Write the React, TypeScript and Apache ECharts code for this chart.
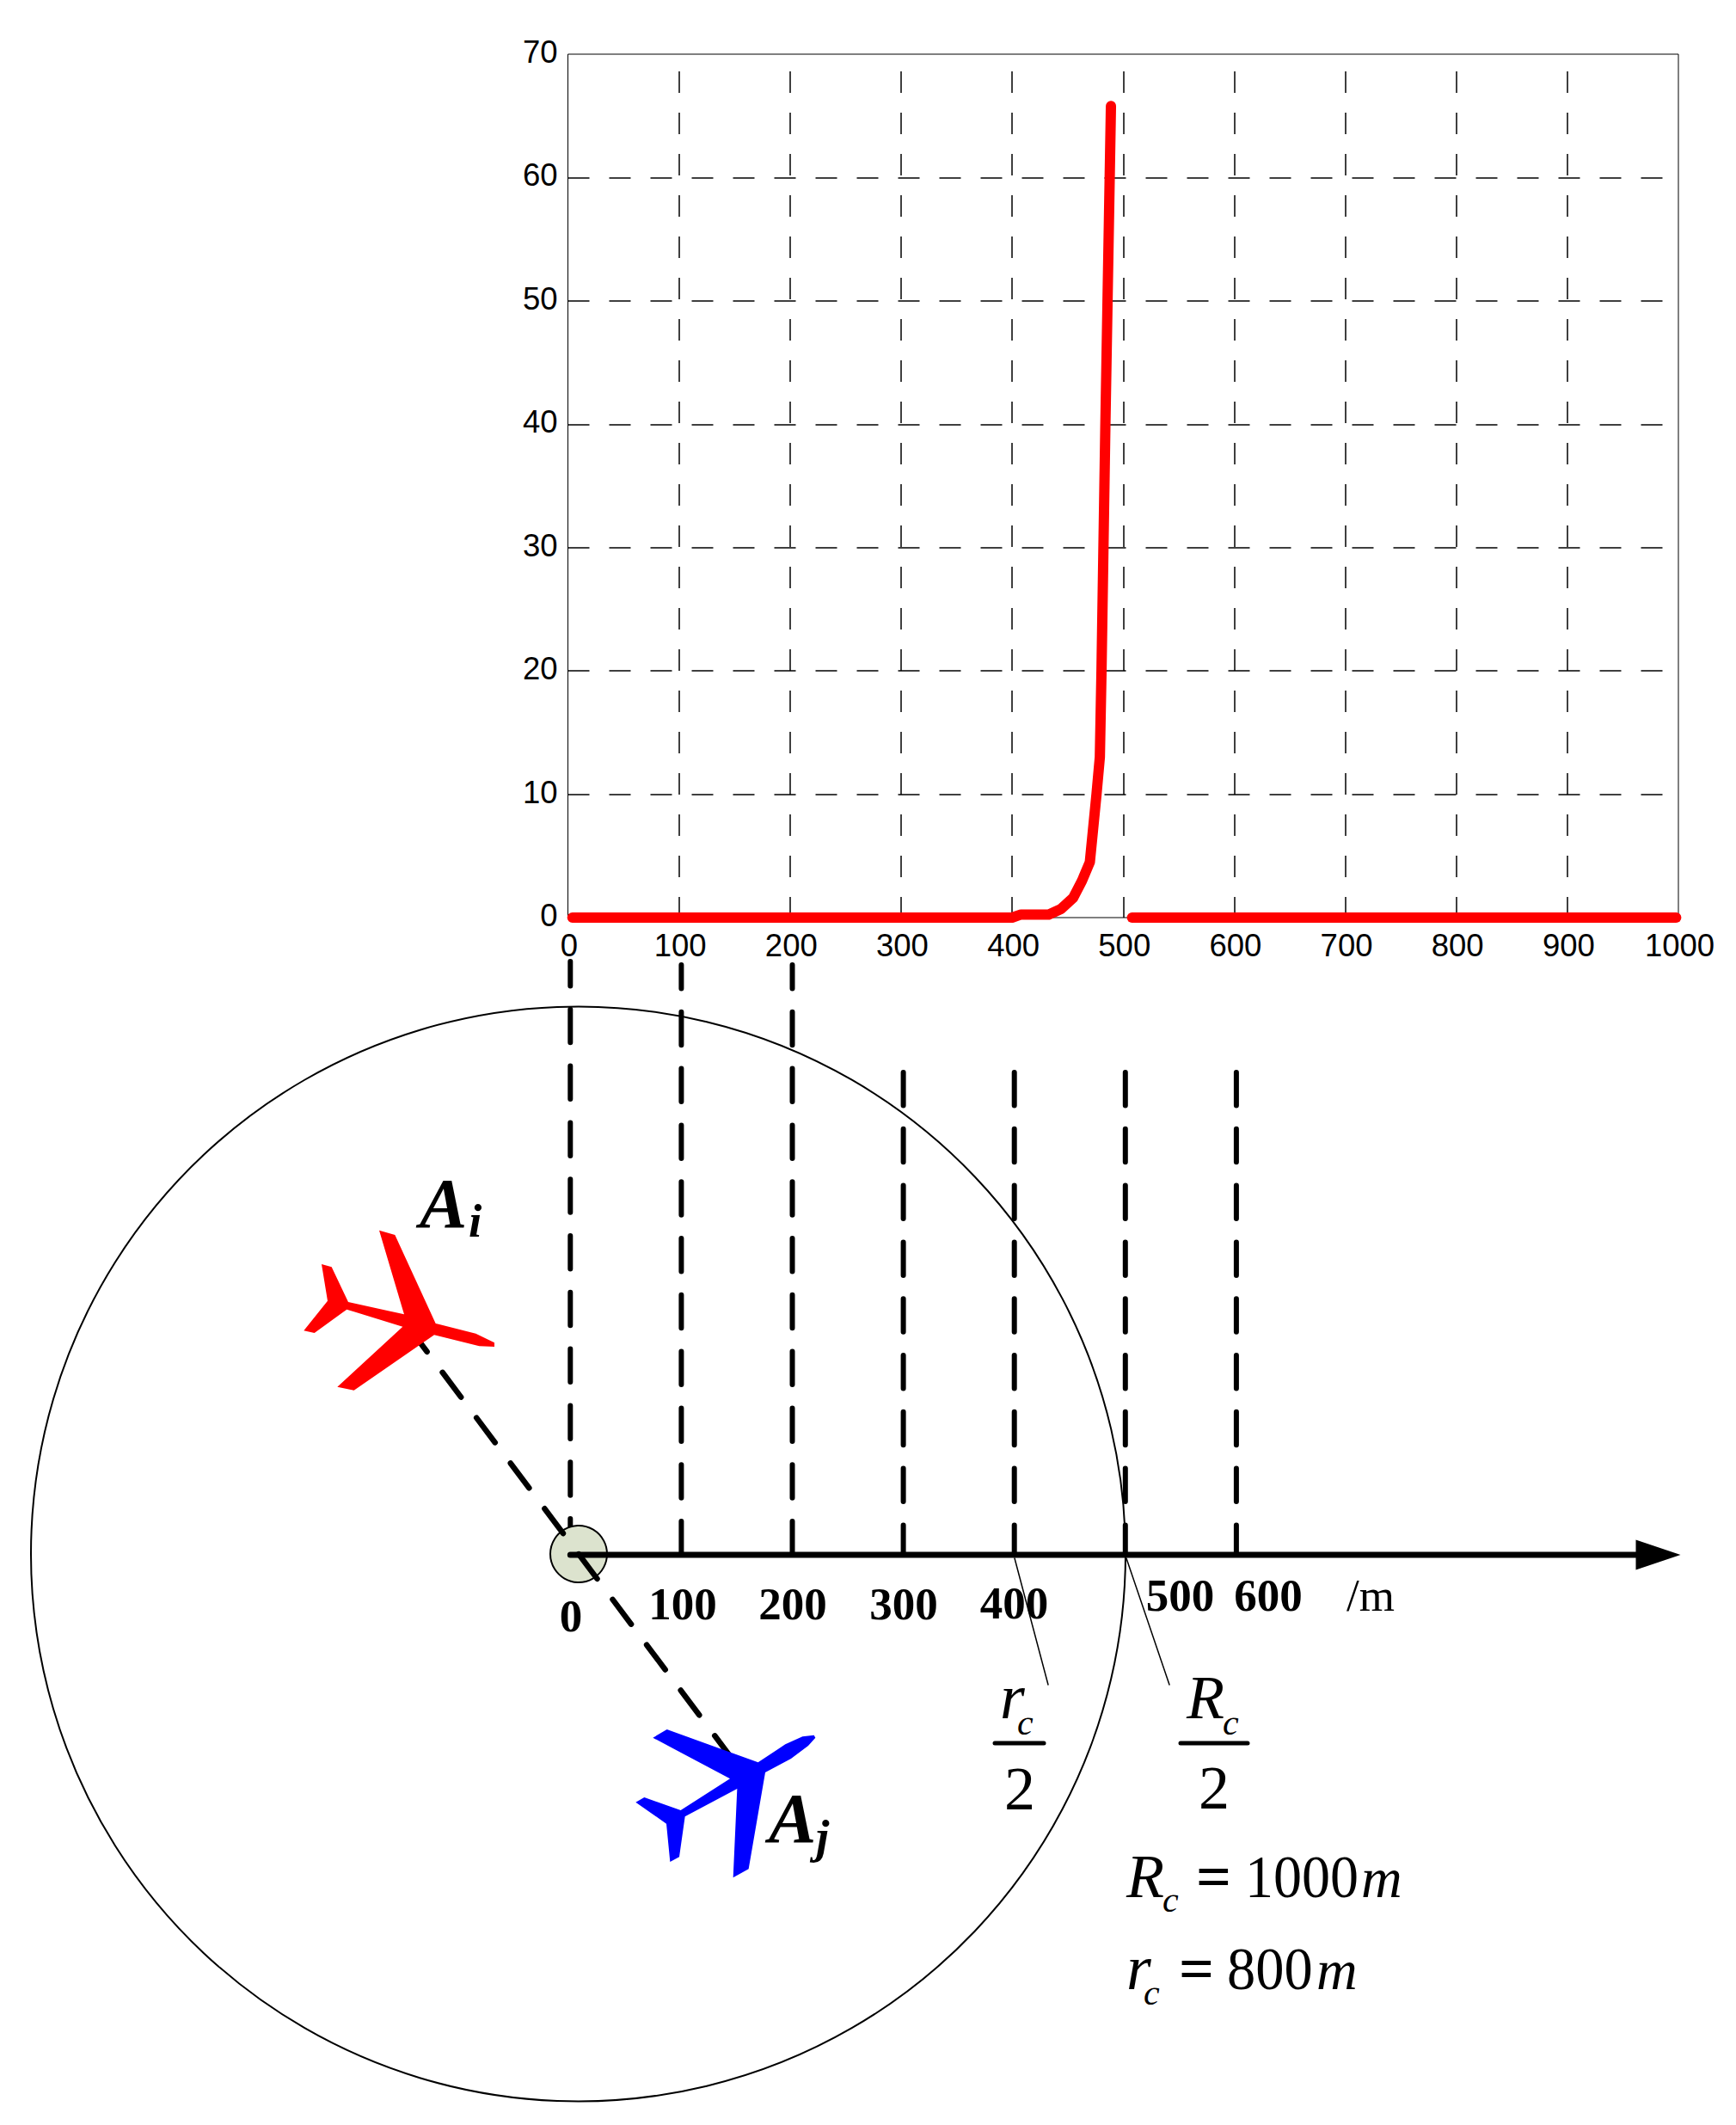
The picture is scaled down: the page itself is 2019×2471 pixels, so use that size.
import React, { useEffect, useRef } from "react";
import * as echarts from "echarts";

// upper chart
const curveX = [4, 400, 408, 433, 444, 455, 463, 470, 476, 479, 480.5, 484, 489];
const curveY = [0, 0, 0.25, 0.25, 0.7, 1.6, 3, 4.5, 10, 13, 20, 40, 65.8];
const tailX = [508, 998];
const tailY = [0, 0];
// lower number line (metres), and how far up each guide rises above it (px scale of hidden axis)
const lowerTicks = [0, 100, 200, 300, 400, 500, 600];
const lowerTickTops = [690, 686, 686, 561, 561, 561, 561];
const lowerTickOffsets = [9.5, 10.5, 10.5, 0, 0, 0, 0];
const arrowEnd = 980;

const SERIF = "Liberation Serif";

const redPlane = [
  [363, 272], [418, 288], [560, 597], [700, 632], [765, 664], [765, 678], [712, 676], [555, 637],
  [275, 830], [217, 818], [445, 608], [250, 548], [137, 630], [100, 622], [183, 518], [162, 390],
  [197, 400], [255, 522], [450, 565],
].map(([x, y]) => [320 + x / 3, 1340 + y / 3]);
const bluePlane = [
  [178, 212], [227, 183], [545, 298], [640, 235], [700, 208], [740, 203], [745, 212], [720, 240],
  [660, 285], [570, 333], [512, 670], [458, 700], [472, 390], [290, 487], [270, 628], [238, 645],
  [225, 512], [118, 437], [148, 420], [275, 465], [447, 355],
].map(([x, y]) => [700 + x / 3, 1950 + y / 3]);

function txt(
  text: string, x: number, base: number, size: number,
  o: { w?: string; s?: string; a?: string; sx?: number } = {}
) {
  return {
    type: "text", x, y: base - 0.3375 * size, z: 6, scaleX: o.sx ?? 1,
    style: {
      text, fill: "#000", fontFamily: SERIF, fontSize: size,
      fontWeight: o.w ?? "normal", fontStyle: o.s ?? "normal",
      align: o.a ?? "left", verticalAlign: "middle",
    },
  };
}
const seg = (x1: number, y1: number, x2: number, y2: number, lineWidth: number, z = 2, extra: any = {}) => ({
  type: "line", z, shape: { x1, y1, x2, y2 },
  style: { stroke: "#000", lineWidth, lineCap: "round", ...extra },
});

export default function App() {
  const ref = useRef<HTMLDivElement>(null);
  useEffect(() => {
    const chart = echarts.init(ref.current!, null, { renderer: "svg" });
    const tickSeries = lowerTicks.map((t, i) => ({
      type: "line", xAxisIndex: 1, yAxisIndex: 1, symbol: "none", z: 2, clip: false, silent: true,
      data: [[t, lowerTickTops[i]], [t, 0]],
      lineStyle: { color: "#000", width: 6, cap: "round", type: [38.5, 27.3], dashOffset: lowerTickOffsets[i] },
    }));
    chart.setOption({
      animation: false,
      backgroundColor: "#fff",
      grid: [
        { left: 660.5, top: 63, width: 1291.5, height: 1004, show: true, borderColor: "#000", borderWidth: 1, backgroundColor: "transparent" },
        { left: 663.3, top: 1100, width: 1291, height: 708 },
      ],
      xAxis: [
        {
          type: "value", gridIndex: 0, min: 0, max: 1000, interval: 100,
          axisLine: { show: false }, axisTick: { show: false },
          axisLabel: { color: "#000", fontFamily: "Liberation Sans", fontSize: 36.5, margin: 14, padding: [0, 0, 0, 3], hideOverlap: false, formatter: (v: number) => String(v) },
          splitLine: { show: true, showMinLine: false, showMaxLine: false, lineStyle: { color: "#000", width: 1.5, type: [25, 23], dashOffset: 28 } },
        },
        { type: "value", gridIndex: 1, min: 0, max: 1000, show: false },
      ],
      yAxis: [
        {
          type: "value", gridIndex: 0, min: 0, max: 70, interval: 10,
          axisLine: { show: false }, axisTick: { show: false },
          axisLabel: { color: "#000", fontFamily: "Liberation Sans", fontSize: 36.5, margin: 12, verticalAlign: "bottom", lineHeight: 5 },
          splitLine: { show: true, showMinLine: false, showMaxLine: false, lineStyle: { color: "#000", width: 1.5, type: [25, 23], dashOffset: 0 } },
        },
        { type: "value", gridIndex: 1, min: 0, max: 708, show: false },
      ],
      series: [
        {
          type: "line", xAxisIndex: 0, yAxisIndex: 0, symbol: "none", z: 5, clip: false,
          data: curveX.map((x, i) => [x, curveY[i]]),
          lineStyle: { color: "#f00", width: 12, cap: "round", join: "round" },
        },
        {
          type: "line", xAxisIndex: 0, yAxisIndex: 0, symbol: "none", z: 5, clip: false,
          data: tailX.map((x, i) => [x, tailY[i]]),
          lineStyle: { color: "#f00", width: 12, cap: "round" },
        },
        ...tickSeries,
        {
          type: "line", xAxisIndex: 1, yAxisIndex: 1, symbol: "none", showSymbol: true, z: 4, clip: false,
          data: [
            { value: [0, 0], symbol: "none" },
            { value: [arrowEnd, 0], symbol: "triangle", symbolSize: [35, 52], symbolRotate: -90, itemStyle: { color: "#000" } },
          ],
          lineStyle: { color: "#000", width: 7, cap: "round" },
          itemStyle: { color: "#000" },
        },
      ],
      graphic: {
        elements: [
          { type: "circle", z: 1, shape: { cx: 672.5, cy: 1807, r: 636.5 }, style: { fill: "transparent", stroke: "#000", lineWidth: 2 } },
          { type: "circle", z: 3, shape: { cx: 673, cy: 1807, r: 33 }, style: { fill: "#DCE3CE", stroke: "#000", lineWidth: 2 } },
          seg(475, 1543, 852, 2046, 6.5, 4, { lineDash: [36, 30] }),
          { type: "polygon", z: 5, shape: { points: redPlane }, style: { fill: "#f00" } },
          { type: "polygon", z: 5, shape: { points: bluePlane }, style: { fill: "#00f" } },
          seg(1180, 1812, 1219, 1959, 1.5),
          seg(1310, 1812, 1360, 1959, 1.5),
          seg(1157, 2027, 1214, 2027, 5),
          seg(1373, 2027, 1451, 2027, 5),

          txt("0", 664, 1897, 53, { w: "bold", a: "center" }),
          txt("100", 794, 1883, 53, { w: "bold", a: "center" }),
          txt("200", 922, 1883, 53, { w: "bold", a: "center" }),
          txt("300", 1051, 1883, 53, { w: "bold", a: "center" }),
          txt("400", 1179.5, 1882, 53, { w: "bold", a: "center" }),
          txt("500", 1372.5, 1873, 53, { w: "bold", a: "center" }),
          txt("600", 1475, 1873, 53, { w: "bold", a: "center" }),
          txt("/m", 1566, 1873, 53),

          txt("A", 488, 1427, 83, { w: "bold", s: "italic" }),
          txt("i", 545, 1438, 55, { w: "bold", s: "italic" }),
          txt("A", 894, 2142, 83, { w: "bold", s: "italic" }),
          txt("j", 949, 2154, 55, { w: "bold", s: "italic" }),

          txt("r", 1163, 1998, 74, { s: "italic" }),
          txt("c", 1183, 2017, 42, { s: "italic" }),
          txt("2", 1186, 2104, 72, { a: "center" }),
          txt("R", 1380, 1998, 72, { s: "italic" }),
          txt("c", 1422, 2017, 42, { s: "italic" }),
          txt("2", 1412, 2103, 72, { a: "center" }),

          txt("R", 1310, 2206, 72, { s: "italic" }),
          txt("c", 1352, 2223, 42, { s: "italic" }),
          txt("=", 1391, 2206, 72, { w: "bold" }),
          txt("1000", 1448, 2206, 70, { sx: 0.943 }),
          txt("m", 1583, 2206, 66, { s: "italic" }),

          txt("r", 1310, 2313, 74, { s: "italic" }),
          txt("c", 1330, 2331, 42, { s: "italic" }),
          txt("=", 1371, 2313, 72, { w: "bold" }),
          txt("800", 1427, 2313, 70, { sx: 0.95 }),
          txt("m", 1531, 2313, 66, { s: "italic" }),
        ],
      },
    });
    return () => chart.dispose();
  }, []);
  return <div ref={ref} style={{ position: "absolute", left: 0, top: 0, width: 2019, height: 2471 }} />;
}
